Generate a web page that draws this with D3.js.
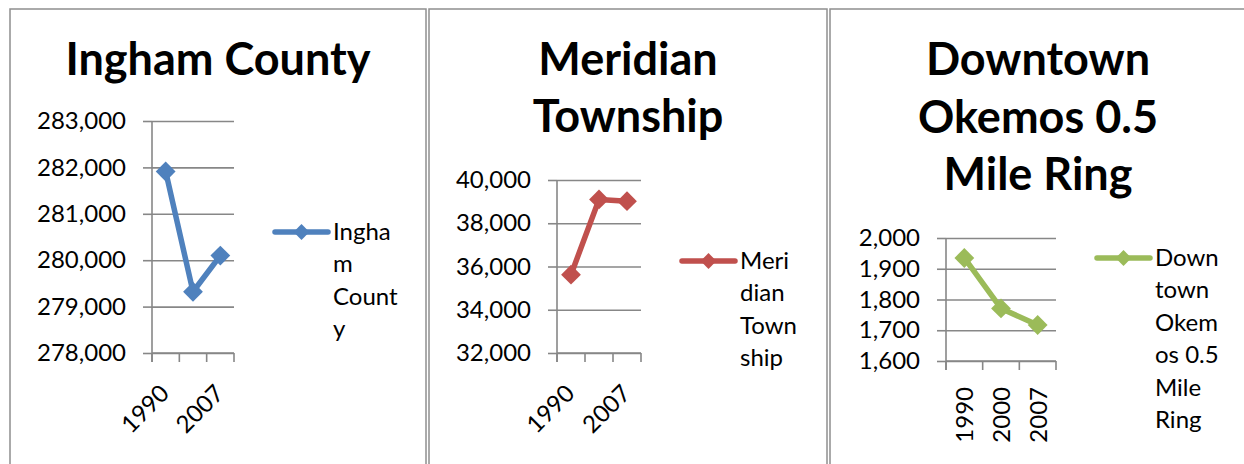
<!DOCTYPE html>
<html>
<head>
<meta charset="utf-8">
<script src="https://cdn.jsdelivr.net/npm/d3@7"></script>
<style>
  body { margin: 0; background: #fff; }
  svg { display: block; font-family: Lato, "Liberation Sans", sans-serif; }
</style>
</head>
<body>
<script>
// values
var years = ["1990", "2000", "2007"];

var inghamValues = [281912, 279320, 280100];
var meridianValues = [35620, 39100, 39020];
var okemosValues = [1935, 1771, 1717];

var inghamTicks = [278000, 279000, 280000, 281000, 282000, 283000];
var meridianTicks = [32000, 34000, 36000, 38000, 40000];
var okemosTicks = [1600, 1700, 1800, 1900, 2000];

var inghamTitle = ["Ingham County"];
var meridianTitle = ["Meridian", "Township"];
var okemosTitle = ["Downtown", "Okemos 0.5", "Mile Ring"];

var inghamLegend = ["Ingha", "m", "Count", "y"];
var meridianLegend = ["Meri", "dian", "Town", "ship"];
var okemosLegend = ["Down", "town", "Okem", "os 0.5", "Mile", "Ring"];

var W = 1244, H = 464;
var fmt = d3.format(",");

var svg = d3.select("body").append("svg")
    .attr("width", W)
    .attr("height", H);

// one panel = one small excel chart
function drawChart(cfg) {
    var g = svg.append("g");

    g.append("rect")
        .attr("x", cfg.panel[0]).attr("y", cfg.panel[1])
        .attr("width", cfg.panel[2] - cfg.panel[0])
        .attr("height", cfg.panel[3] - cfg.panel[1])
        .attr("fill", "#fff")
        .attr("stroke", "#8f8f8f")
        .attr("stroke-width", 1.5);

    g.selectAll("text.title")
        .data(cfg.title)
        .enter().append("text")
        .attr("class", "title")
        .attr("x", cfg.titleX)
        .attr("y", function(d, i) { return cfg.titleY + i * cfg.titleStep; })
        .attr("text-anchor", "middle")
        .attr("font-size", 45)
        .attr("font-weight", "bold")
        .attr("fill", "#000")
        .text(function(d) { return d; });

    var p = cfg.plot;
    var x = d3.scaleBand().domain(years).range([p.x0, p.x1]);
    var y = d3.scaleLinear()
        .domain([cfg.ticks[0], cfg.ticks[cfg.ticks.length - 1]])
        .range([p.bottom, p.top]);

    // gridlines
    var grid = g.append("g")
        .attr("transform", "translate(" + p.x0 + ",0)")
        .call(d3.axisLeft(y).tickValues(cfg.ticks).tickSize(-(p.x1 - p.x0)).tickFormat(""));
    grid.select(".domain").remove();
    grid.selectAll("line").attr("stroke", "#878787").attr("stroke-width", 1.6);

    // y axis with outside ticks and labels
    var ya = g.append("g")
        .attr("transform", "translate(" + p.x0 + ",0)")
        .call(d3.axisLeft(y).tickValues(cfg.ticks).tickSize(9).tickSizeOuter(0)
            .tickPadding(17).tickFormat(fmt));
    ya.select(".domain").remove();
    ya.selectAll("line").attr("stroke", "#878787").attr("stroke-width", 1.6);
    ya.selectAll("text").attr("font-size", 24).attr("font-family", "Lato, sans-serif")
        .attr("fill", "#000");

    // vertical axis line, running through the x tick length
    g.append("line")
        .attr("x1", p.x0).attr("x2", p.x0)
        .attr("y1", p.top).attr("y2", p.bottom + 9)
        .attr("stroke", "#878787").attr("stroke-width", 1.6);

    // x axis: ticks on category edges
    var edges = years.map(function(d) { return x(d); }).concat([p.x1]);
    g.append("line")
        .attr("x1", p.x0).attr("x2", p.x1)
        .attr("y1", p.bottom).attr("y2", p.bottom)
        .attr("stroke", "#878787").attr("stroke-width", 1.6);
    g.selectAll("line.xtick")
        .data(edges)
        .enter().append("line")
        .attr("class", "xtick")
        .attr("x1", function(d) { return d; }).attr("x2", function(d) { return d; })
        .attr("y1", p.bottom).attr("y2", p.bottom + 9)
        .attr("stroke", "#878787").attr("stroke-width", 1.6);

    var cx = function(d) { return x(d) + x.bandwidth() / 2; };

    g.selectAll("text.xlab")
        .data(years.filter(function(d) { return cfg.xShown.indexOf(d) >= 0; }))
        .enter().append("text")
        .attr("class", "xlab")
        .attr("text-anchor", "end")
        .attr("font-size", 24)
        .attr("fill", "#000")
        .attr("transform", function(d) {
            if (cfg.xRotate == -90)
                return "translate(" + (cx(d) + 9) + "," + (p.bottom + 26) + ") rotate(-90)";
            return "translate(" + (cx(d) + 5) + "," + (p.bottom + 42) + ") rotate(-45)";
        })
        .text(function(d) { return d; });

    // series
    var pts = years.map(function(d, i) { return [cx(d), y(cfg.values[i])]; });
    g.append("path")
        .attr("d", d3.line()(pts))
        .attr("fill", "none")
        .attr("stroke", cfg.color)
        .attr("stroke-width", 5.5)
        .attr("stroke-linejoin", "round")
        .attr("stroke-linecap", "round");

    var diamond = d3.symbol().type(d3.symbolDiamond2).size(250);
    g.selectAll("path.mark")
        .data(pts)
        .enter().append("path")
        .attr("class", "mark")
        .attr("d", diamond)
        .attr("transform", function(d) { return "translate(" + d[0] + "," + d[1] + ")"; })
        .attr("fill", cfg.color);

    // legend
    var L = cfg.legend;
    g.append("line")
        .attr("x1", L.x).attr("x2", L.x + 53)
        .attr("y1", L.y).attr("y2", L.y)
        .attr("stroke", cfg.color).attr("stroke-width", 5.5)
        .attr("stroke-linecap", "round");
    g.append("path")
        .attr("d", d3.symbol().type(d3.symbolDiamond2).size(160))
        .attr("transform", "translate(" + (L.x + 26.5) + "," + L.y + ")")
        .attr("fill", cfg.color);
    g.selectAll("text.leg")
        .data(cfg.legendLines)
        .enter().append("text")
        .attr("class", "leg")
        .attr("x", L.x + 58)
        .attr("y", function(d, i) { return L.y + 8 + i * 32.4; })
        .attr("font-size", 24)
        .attr("fill", "#000")
        .text(function(d) { return d; });
}

drawChart({
    panel: [10, 9, 426, 480],
    title: inghamTitle, titleX: 218, titleY: 75, titleStep: 57.5,
    plot: {x0: 152, x1: 234, top: 121, bottom: 353},
    ticks: inghamTicks, values: inghamValues,
    xShown: ["1990", "2007"], xRotate: -45,
    color: "#4f81bd",
    legend: {x: 275, y: 232}, legendLines: inghamLegend
});

drawChart({
    panel: [429, 9, 827, 480],
    title: meridianTitle, titleX: 628, titleY: 75, titleStep: 57,
    plot: {x0: 557, x1: 641, top: 180, bottom: 353},
    ticks: meridianTicks, values: meridianValues,
    xShown: ["1990", "2007"], xRotate: -45,
    color: "#c0504d",
    legend: {x: 682, y: 261}, legendLines: meridianLegend
});

drawChart({
    panel: [830, 9, 1250, 480],
    title: okemosTitle, titleX: 1038, titleY: 75, titleStep: 57.5,
    plot: {x0: 946, x1: 1056, top: 238, bottom: 361},
    ticks: okemosTicks, values: okemosValues,
    xShown: years, xRotate: -90,
    color: "#9bbb59",
    legend: {x: 1097, y: 258}, legendLines: okemosLegend
});
</script>
</body>
</html>
